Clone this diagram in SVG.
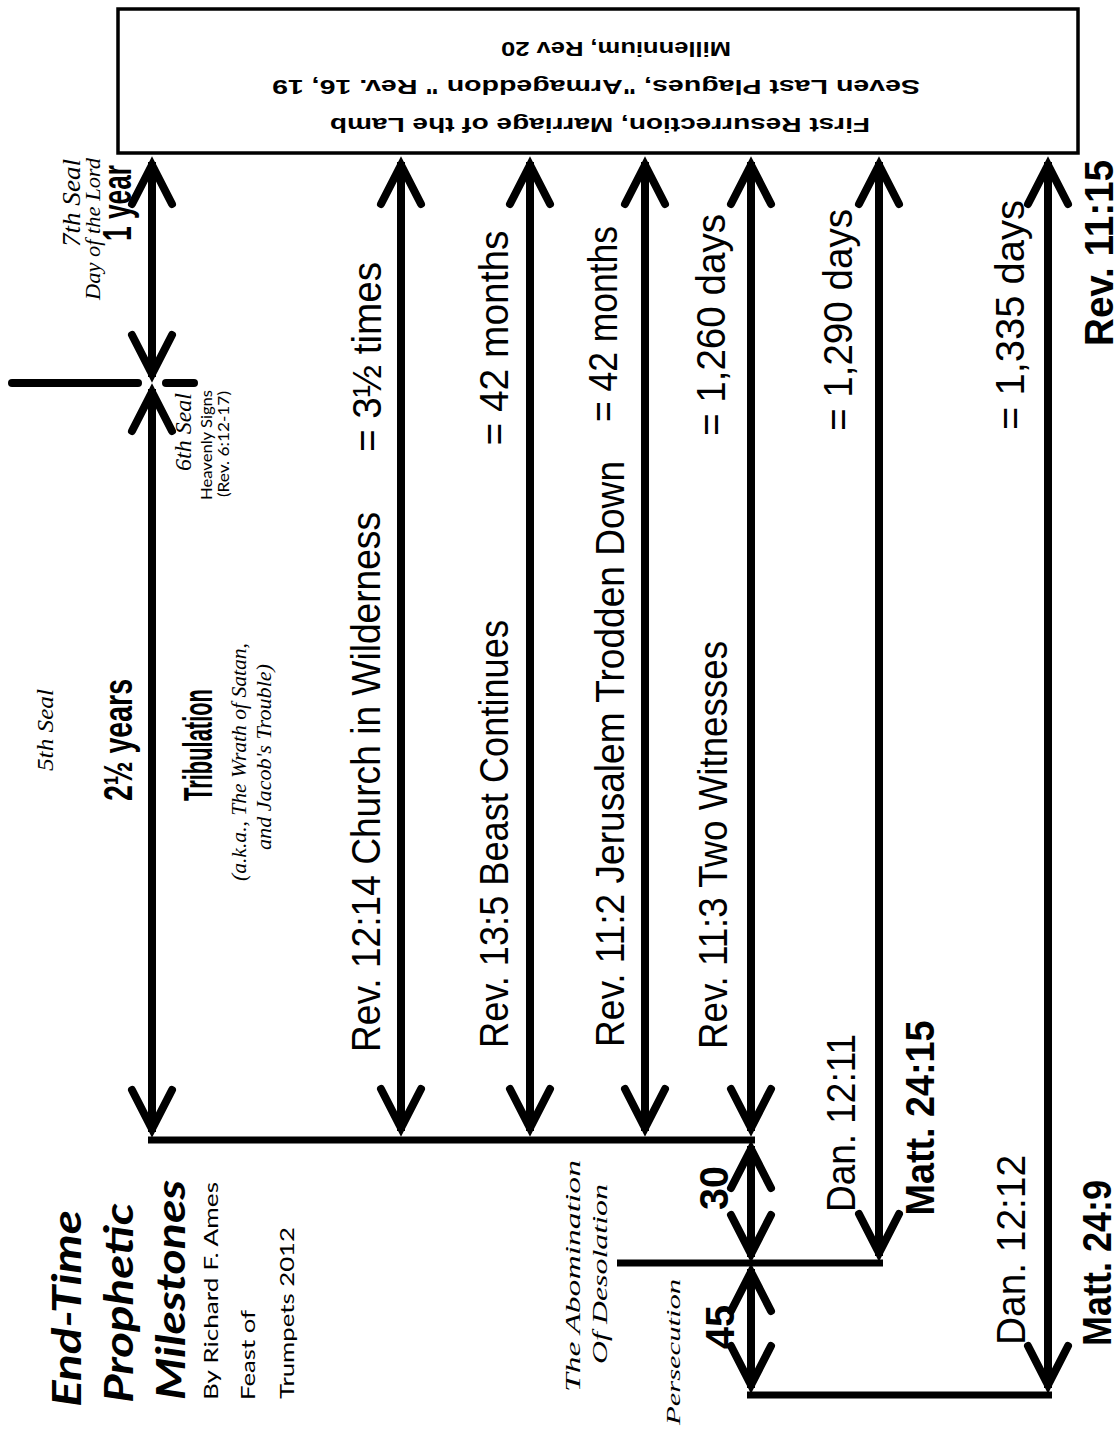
<svg xmlns="http://www.w3.org/2000/svg" width="1119" height="1430" viewBox="0 0 1119 1430">
<style>
.ln{stroke:#000;stroke-width:8;fill:none;marker-start:url(#ah);marker-end:url(#ah)}
.hl{stroke:#000;stroke-width:7;fill:none}
.tk{stroke:#000;stroke-width:8;stroke-linecap:round}
text{fill:#000}
.r{text-anchor:middle;dominant-baseline:central}
.s{text-anchor:start;dominant-baseline:central}
.cond{font-family:"Liberation Sans",Arial,sans-serif;font-size:40px}
.b{font-weight:bold}
.it{font-family:"Liberation Serif","Times New Roman",serif;font-style:italic}
.cal{font-family:Lato,"Open Sans",sans-serif}
.box{font-family:"Liberation Sans",Arial,sans-serif;font-weight:bold;font-size:20px;text-anchor:middle;dominant-baseline:central}
</style>
<defs>
<marker id="ah" markerUnits="userSpaceOnUse" markerWidth="60" markerHeight="60" viewBox="-50 -30 60 60" refX="0" refY="0" orient="auto-start-reverse" overflow="visible">
<path d="M-42,-20 L-3,0 L-42,20" fill="none" stroke="#000" stroke-width="8" stroke-linecap="round" stroke-linejoin="miter"/>
</marker>
</defs>
<rect width="1119" height="1430" fill="#fff"/>

<g id="box">
<rect x="118" y="9" width="960" height="144" fill="#fff" stroke="#000" stroke-width="3.5"/>
<text class="box" transform="rotate(180 616 49)" x="616" y="49" textLength="230" lengthAdjust="spacingAndGlyphs">Millennium, Rev 20</text>
<text class="box" transform="rotate(180 596 87)" x="596" y="87" textLength="648" lengthAdjust="spacingAndGlyphs">Seven Last Plagues, "Armageddon " Rev. 16, 19</text>
<text class="box" transform="rotate(180 600 125)" x="600" y="125" textLength="540" lengthAdjust="spacingAndGlyphs">First Resurrection, Marriage of the Lamb</text>
</g>

<g id="connectors">
<line class="ln" x1="152" y1="162" x2="152" y2="377"/>
<line class="ln" x1="152" y1="389" x2="152" y2="1132"/>
<line class="ln" x1="401" y1="162" x2="401" y2="1131"/>
<line class="ln" x1="530" y1="162" x2="530" y2="1131"/>
<line class="ln" x1="645" y1="162" x2="645" y2="1131"/>
<line class="ln" x1="751" y1="162" x2="751" y2="1131"/>
<line class="ln" x1="751" y1="1146" x2="751" y2="1257"/>
<line class="ln" x1="751" y1="1269" x2="751" y2="1388"/>
<line class="ln" x1="879" y1="162" x2="879" y2="1256"/>
<line class="ln" x1="1048" y1="162" x2="1048" y2="1388"/>
<line class="hl" x1="148" y1="1140" x2="755" y2="1140"/>
<line class="hl" x1="617" y1="1263" x2="883" y2="1263"/>
<line class="hl" x1="747" y1="1395" x2="1052" y2="1395"/>
<line class="tk" x1="12" y1="383" x2="138" y2="383"/>
<line class="tk" x1="166" y1="383" x2="194" y2="383"/>
</g>

<g id="seal7">
<text class="it r" font-size="25" transform="translate(71 203) rotate(-90)" textLength="88" lengthAdjust="spacingAndGlyphs">7th Seal</text>
<text class="it r" font-size="21" transform="translate(93 229) rotate(-90)" textLength="142" lengthAdjust="spacingAndGlyphs">Day of the Lord</text>
<text class="cond b r" font-size="36" transform="translate(117 203) rotate(-90)" textLength="76" lengthAdjust="spacingAndGlyphs">1 year</text>
</g>

<g id="seal6">
<text class="it r" font-size="23" transform="translate(183 432) rotate(-90)" textLength="78" lengthAdjust="spacingAndGlyphs">6th Seal</text>
<text class="cal r" font-size="16" transform="translate(205 445) rotate(-90)" textLength="110" lengthAdjust="spacingAndGlyphs">Heavenly Signs</text>
<text class="cal r" font-size="15" transform="translate(223 444) rotate(-90)" textLength="106" lengthAdjust="spacingAndGlyphs">(Rev. 6:12-17)</text>
</g>

<g id="seal5">
<text class="it r" font-size="23" transform="translate(45 730) rotate(-90)" textLength="82" lengthAdjust="spacingAndGlyphs">5th Seal</text>
<text class="cond b r" font-size="40" transform="translate(118 740) rotate(-90)" textLength="122" lengthAdjust="spacingAndGlyphs">2½ years</text>
<text class="cond b r" font-size="40" transform="translate(198 745) rotate(-90)" textLength="112" lengthAdjust="spacingAndGlyphs">Tribulation</text>
<text class="it r" font-size="22" transform="translate(238 762) rotate(-90)" textLength="238" lengthAdjust="spacingAndGlyphs">(a.k.a., The Wrath of Satan,</text>
<text class="it r" font-size="22" transform="translate(263 757) rotate(-90)" textLength="186" lengthAdjust="spacingAndGlyphs">and Jacob's Trouble)</text>
</g>

<g id="church">
<text class="cond r" transform="translate(366 782) rotate(-90)" textLength="540" lengthAdjust="spacingAndGlyphs">Rev. 12:14 Church in Wilderness</text>
<text class="cond r" transform="translate(367 357) rotate(-90)" textLength="190" lengthAdjust="spacingAndGlyphs">= 3½ times</text>
</g>

<g id="beast">
<text class="cond r" transform="translate(494 834) rotate(-90)" textLength="428" lengthAdjust="spacingAndGlyphs">Rev. 13:5 Beast Continues</text>
<text class="cond r" transform="translate(494 338) rotate(-90)" textLength="215" lengthAdjust="spacingAndGlyphs">= 42 months</text>
</g>

<g id="jerusalem">
<text class="cond r" transform="translate(610 754) rotate(-90)" textLength="586" lengthAdjust="spacingAndGlyphs">Rev. 11:2 Jerusalem Trodden Down</text>
<text class="cond r" transform="translate(603 324) rotate(-90)" textLength="196" lengthAdjust="spacingAndGlyphs">= 42 months</text>
</g>

<g id="witnesses">
<text class="cond r" transform="translate(713 845) rotate(-90)" textLength="408" lengthAdjust="spacingAndGlyphs">Rev. 11:3 Two Witnesses</text>
<text class="cond r" transform="translate(711 325) rotate(-90)" textLength="222" lengthAdjust="spacingAndGlyphs">= 1,260 days</text>
</g>

<g id="days1290">
<text class="cond r" transform="translate(838 320) rotate(-90)" textLength="222" lengthAdjust="spacingAndGlyphs">= 1,290 days</text>
<text class="cond r" transform="translate(841 1123) rotate(-90)" textLength="178" lengthAdjust="spacingAndGlyphs">Dan. 12:11</text>
<text class="cond b r" transform="translate(920 1118) rotate(-90)" textLength="195" lengthAdjust="spacingAndGlyphs">Matt. 24:15</text>
</g>

<g id="days1335">
<text class="cond r" transform="translate(1010 315) rotate(-90)" textLength="230" lengthAdjust="spacingAndGlyphs">= 1,335 days</text>
<text class="cond b r" transform="translate(1099 253) rotate(-90)" textLength="186" lengthAdjust="spacingAndGlyphs">Rev. 11:15</text>
<text class="cond r" transform="translate(1011 1250) rotate(-90)" textLength="190" lengthAdjust="spacingAndGlyphs">Dan. 12:12</text>
<text class="cond b r" transform="translate(1097 1263) rotate(-90)" textLength="166" lengthAdjust="spacingAndGlyphs">Matt. 24:9</text>
</g>

<g id="abomination">
<text class="cond b r" transform="translate(714 1188) rotate(-90)" textLength="44" lengthAdjust="spacingAndGlyphs">30</text>
<text class="cond b r" transform="translate(720 1327) rotate(-90)" textLength="44" lengthAdjust="spacingAndGlyphs">45</text>
<text class="it r" font-size="22" transform="translate(572 1276) rotate(-90)" textLength="232" lengthAdjust="spacingAndGlyphs">The Abomination</text>
<text class="it r" font-size="22" transform="translate(599 1274) rotate(-90)" textLength="180" lengthAdjust="spacingAndGlyphs">Of Desolation</text>
<text class="it r" font-size="18" transform="translate(674 1352) rotate(-90)" textLength="146" lengthAdjust="spacingAndGlyphs">Persecution</text>
</g>

<g id="title">
<text class="cal b s" font-size="40" font-style="italic" transform="translate(66 1407) rotate(-90)" textLength="197" lengthAdjust="spacingAndGlyphs">End-Time</text>
<text class="cal b s" font-size="40" font-style="italic" transform="translate(118 1403) rotate(-90)" textLength="200" lengthAdjust="spacingAndGlyphs">Prophetic</text>
<text class="cal b s" font-size="40" font-style="italic" transform="translate(170 1400) rotate(-90)" textLength="220" lengthAdjust="spacingAndGlyphs">Milestones</text>
<text class="cal s" font-size="19" transform="translate(210 1400) rotate(-90)" textLength="218" lengthAdjust="spacingAndGlyphs">By Richard F. Ames</text>
<text class="cal s" font-size="19" transform="translate(247 1400) rotate(-90)" textLength="90" lengthAdjust="spacingAndGlyphs">Feast of</text>
<text class="cal s" font-size="19" transform="translate(286 1399) rotate(-90)" textLength="172" lengthAdjust="spacingAndGlyphs">Trumpets 2012</text>
</g>
</svg>
